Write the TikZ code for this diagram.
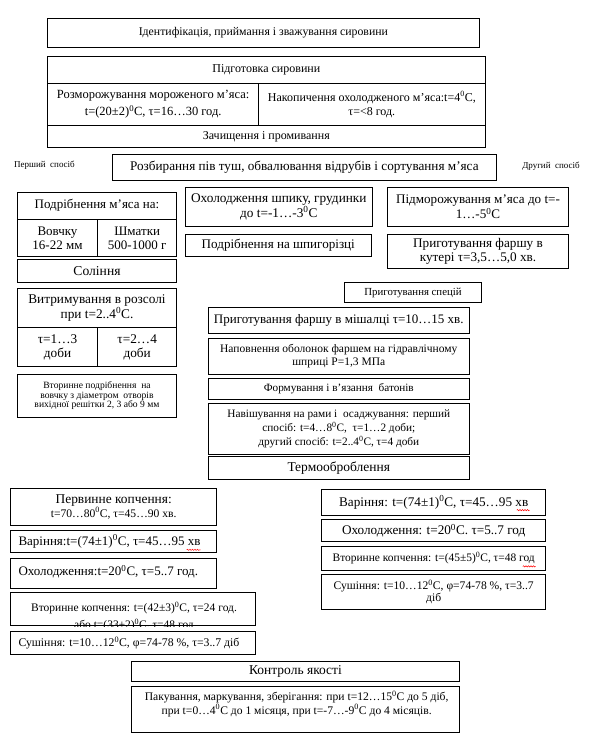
\documentclass[tikz,border=0pt]{standalone}
\usepackage{fontspec}
\setmainfont{Liberation Serif}
\usetikzlibrary{decorations.pathmorphing,calc}
\newcommand\fz[2]{\fontsize{#1}{#2}\selectfont}
\newcommand\dg{\textsuperscript{0}}
\tikzset{
  box/.style={draw, line width=0.9pt, inner sep=1pt, align=center, font=\fz{12}{14}},
  txt/.style={inner sep=0pt, align=center},
  squig/.style={red, line width=0.5pt, decorate, decoration={snake, amplitude=0.6pt, segment length=2.5pt}}
}
\begin{document}
\begin{tikzpicture}[x=1pt,y=-1pt]
\useasboundingbox[fill=white] (0,0) rectangle (589,744);
% top
\node[box, minimum width=431.3pt, minimum height=29pt, font=\fz{11.8}{14}] (id) at (263.4,32.8) {Ідентифікація, приймання і зважування сировини};
\node[box, minimum width=437.3pt, minimum height=26.3pt] (prepA) at (266.35,69.85) {Підготовка сировини};
\node[box, minimum width=211pt, minimum height=42.7pt, font=\fz{12.5}{16.5}] (prepL) at (153.2,104.35) {Розморожування мороженого м’яса:\\ t=(20±2)\dg C, τ=16…30 год.};
\node[box, minimum width=226.3pt, minimum height=42.7pt, font=\fz{12}{14}] (prepR) at (371.85,104.35) {Накопичення охолодженого м’яса:t=4\dg C,\\ τ=<8 год.};
\node[box, minimum width=437.3pt, minimum height=21.6pt] (prepC) at (266.35,136.5) {Зачищення і промивання};
% methods labels
\node[txt, font=\fz{9}{10}] (m1) at (44.5,165) {Перший\ \ спосіб};
\node[txt, font=\fz{9}{10}] (m2) at (551,166) {Другий\ \ спосіб};
\node[box, minimum width=383.3pt, minimum height=26pt, font=\fz{13.2}{15}] (razb) at (304.35,167.5) {Розбирання пів туш, обвалювання відрубів і сортування м’яса};
% left column
\node[box, minimum width=159.4pt, minimum height=26.7pt, font=\fz{13}{14}] (podrA) at (97,205.65) {Подрібнення м’яса на:};
\node[box, minimum width=80.4pt, minimum height=37.7pt, font=\fz{13}{14}] (podrL) at (57.5,237.85) {Вовчку\\ 16-22 мм};
\node[box, minimum width=79pt, minimum height=37.7pt, font=\fz{13}{14}] (podrR) at (137.2,237.85) {Шматки\\ 500-1000 г};
\node[box, minimum width=159.4pt, minimum height=23pt, font=\fz{13.6}{15}] (sol) at (97,270.8) {Соління};
\node[box, minimum width=159.4pt, minimum height=39pt, font=\fz{13.3}{13.5}] (vytrA) at (97,307.8) {Витримування в розсолі\\ при t=2..4\dg C.};
\node[box, minimum width=80.4pt, minimum height=39.4pt, font=\fz{13.3}{14}] (vytrL) at (57.5,347) {τ=1…3\\ доби};
\node[box, minimum width=79pt, minimum height=39.4pt, font=\fz{13.3}{14}] (vytrR) at (137.2,347) {τ=2…4\\ доби};
\node[box, minimum width=159.4pt, minimum height=43pt, font=\fz{9.6}{9.3}] (vtpodr) at (97,395.8) {Вторинне подрібнення\ \ на\\ вовчку з діаметром\ \ отворів\\ вихідної решітки 2, 3 або 9 мм};
% middle column
\node[box, minimum width=187pt, minimum height=39.4pt, font=\fz{13.3}{13.5}] (okhol) at (278.8,207) {Охолодження шпику, грудинки\\ до t=-1…-3\dg C};
\node[box, minimum width=186pt, minimum height=22.4pt, font=\fz{13.1}{14}] (shpyg) at (278.3,245.5) {Подрібнення на шпигорізці};
% right column
\node[box, minimum width=180.6pt, minimum height=39.4pt, font=\fz{13.1}{15}] (pidmor) at (478,207) {Підморожування м’яса до t=-\\ 1…-5\dg C};
\node[box, minimum width=180.6pt, minimum height=34pt, font=\fz{13.2}{14.3}] (kuter) at (478,251.3) {Приготування фаршу в\\ кутері τ=3,5…5,0 хв.};
\node[box, minimum width=137.4pt, minimum height=20pt, font=\fz{10.8}{12}] (spec) at (413,292.7) {Приготування спецій};
% centre chain
\node[box, minimum width=261pt, minimum height=26pt, font=\fz{13}{14}] (mish) at (338.8,320.3) {Приготування фаршу в мішалці τ=10…15 хв.};
\node[box, minimum width=261pt, minimum height=36pt, font=\fz{11.5}{12.7}] (napov) at (338.8,356.3) {Наповнення оболонок фаршем на гідравлічному\\ шприці P=1,3 МПа};
\node[box, minimum width=261pt, minimum height=20.7pt, font=\fz{11.2}{12}] (form) at (338.8,388.65) {Формування і в’язання\ \ батонів};
\node[box, minimum width=261pt, minimum height=51pt, font=\fz{11.3}{13.6}] (navish) at (338.8,428.8) {Навішування на рами і\ \ осаджування: перший\\ спосіб: t=4…8\dg C,\ \ τ=1…2 доби;\\ другий спосіб: t=2..4\dg C, τ=4 доби};
\node[box, minimum width=261pt, minimum height=22.3pt, font=\fz{13.5}{15}] (termo) at (338.8,467.85) {Термооброблення};
% left thermal branch
\node[box, minimum width=206pt, minimum height=36.7pt, font=\fz{13.4}{14.3}] (pervk) at (113.7,506.65) {Первинне копчення:\\ {\fz{11.6}{14.3}t=70…80\dg C, τ=45…90 хв.}};
\node[box, minimum width=206pt, minimum height=22.3pt] (varL) at (113.7,541.15) {};
\node[txt, anchor=west, font=\fz{13}{14}] (varLt) at (18.3,541.5) {Варіння:t=(74±1)\dg C, τ=45…95 хв};
\node[box, minimum width=206pt, minimum height=30pt] (okhL) at (113.7,573.3) {};
\node[txt, anchor=west, font=\fz{13}{14}] (okhLt) at (18.3,571.5) {Охолодження:t=20\dg C, τ=5..7 год.};
\node[box, minimum width=245pt, minimum height=33.4pt] (vtkL) at (133.2,609) {};
\begin{scope}
\clip (vtkL.north west) rectangle (vtkL.south east);
\node[txt, anchor=north, font=\fz{11.5}{17}] (vtkLt) at (134,601.5) {Вторинне копчення: t=(42±3)\dg C, τ=24 год.\\ або t=(33±2)\dg C, τ=48 год};
\end{scope}
\node[box, minimum width=245pt, minimum height=22.3pt] (sushL) at (133.2,642.85) {};
\node[txt, anchor=west, font=\fz{11.75}{13}] (sushLt) at (18.3,643) {Сушіння: t=10…12\dg C, φ=74-78 \%, τ=3..7 діб};
% right thermal branch
\node[box, minimum width=224pt, minimum height=25.7pt, font=\fz{13.2}{14}] (varR) at (433.7,502.15) {Варіння: t=(74±1)\dg C, τ=45…95 хв};
\node[box, minimum width=224pt, minimum height=22.4pt, font=\fz{13.2}{14}] (okhR) at (433.7,530.5) {Охолодження: t=20\dg C. τ=5..7 год};
\node[box, minimum width=224pt, minimum height=23.3pt, font=\fz{11.45}{13}] (vtkR) at (433.7,558.35) {Вторинне копчення: t=(45±5)\dg C, τ=48 год};
\node[box, minimum width=224pt, minimum height=35pt, font=\fz{11.6}{12}] (sushR) at (433.7,591.8) {Сушіння: t=10…12\dg C, φ=74-78 \%, τ=3..7\\ діб};
% spelling-check squiggles
\draw[squig] ($(varLt.south east)+(-14,1.5)$) -- ($(varLt.south east)+(0,1.5)$);
\draw[squig] ($(varR.center)+(83,8)$) -- ($(varR.center)+(96,8)$);
\draw[squig] ($(vtkR.center)+(89,8)$) -- ($(vtkR.center)+(102,8)$);
% bottom
\node[box, minimum width=327.6pt, minimum height=20pt, font=\fz{13.5}{15}] (kontr) at (295.5,671.7) {Контроль якості};
\node[box, minimum width=327.6pt, minimum height=46.3pt] (pak) at (295.5,709.15) {};
\node[txt, anchor=north, font=\fz{11.6}{13.3}] (pakt) at (296.7,691) {Пакування, маркування, зберігання: при t=12…15\dg C до 5 діб,\\ при t=0…4\dg C до 1 місяця, при t=-7…-9\dg C до 4 місяців.};
\end{tikzpicture}
\end{document}
